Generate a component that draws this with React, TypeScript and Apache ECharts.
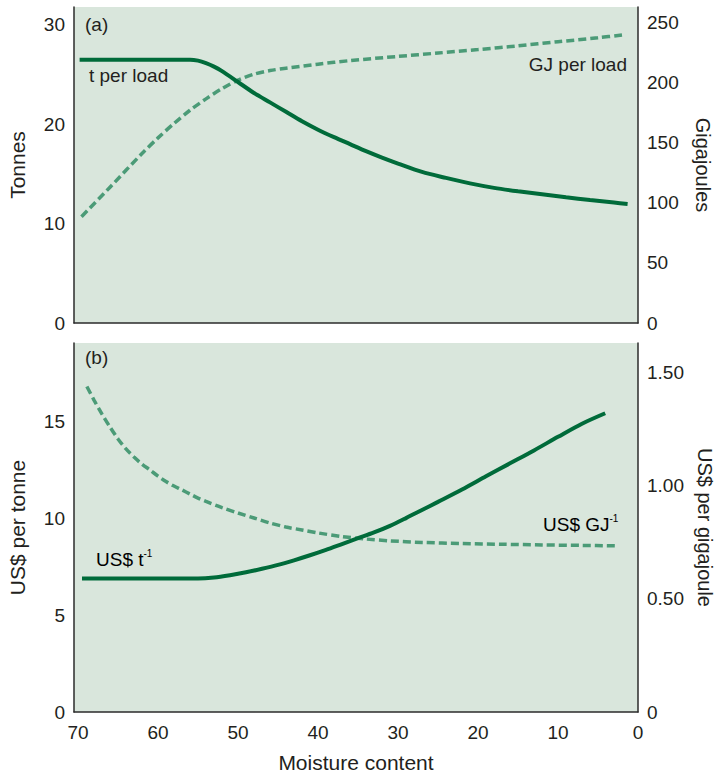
import React, { useEffect, useRef } from "react";
import * as echarts from "echarts";

// ---- data ----
const moistTonnes = [69.8, 56, 55, 54, 53, 52, 50, 48, 46, 44, 42, 40, 38, 36, 34, 32, 30, 27, 24, 21, 18, 15, 12, 9, 6, 3, 1.3];
const tonnesPerLoad = [26.5, 26.5, 26.4, 26.15, 25.8, 25.35, 24.25, 23.15, 22.2, 21.25, 20.3, 19.45, 18.7, 18.0, 17.3, 16.65, 16.05, 15.2, 14.6, 14.05, 13.6, 13.25, 12.95, 12.65, 12.37, 12.12, 11.98];

const moistGJ = [69.8, 66, 62, 60, 58, 56, 54, 52, 50, 48, 46, 44, 40, 36, 30, 25, 20, 15, 10, 5, 2];
const gjPerLoad = [86.8, 113, 141, 154, 166, 177, 186.5, 195, 202, 207, 210, 212, 215.3, 218.3, 221.8, 224.6, 227.5, 230.6, 234, 237.3, 239.6];

const moistUsdT = [69.5, 55, 53, 51, 49, 47, 45, 43, 41, 39, 37, 35, 33, 31, 29, 27, 25, 22, 19, 16, 13, 10, 7, 4.1];
const usdPerTonne = [6.9, 6.9, 6.95, 7.07, 7.22, 7.4, 7.6, 7.84, 8.1, 8.38, 8.68, 8.98, 9.28, 9.62, 10.02, 10.44, 10.86, 11.5, 12.18, 12.85, 13.52, 14.22, 14.9, 15.44];

const moistUsdGJ = [69.1, 68, 67, 66, 65, 64, 63, 62, 61, 60, 59, 58, 57, 56, 55, 54, 52, 50, 48, 46, 44, 42, 40, 37, 34, 31, 27, 22, 17, 12, 7, 2.9];
const usdPerGJ = [1.452, 1.378, 1.316, 1.259, 1.206, 1.162, 1.126, 1.095, 1.069, 1.042, 1.018, 0.998, 0.981, 0.963, 0.945, 0.93, 0.903, 0.879, 0.857, 0.835, 0.817, 0.804, 0.791, 0.775, 0.764, 0.756, 0.749, 0.744, 0.741, 0.738, 0.736, 0.734];

const xTicks = [0, 10, 20, 30, 40, 50, 60, 70];
const tonnesTicks = [0, 10, 20, 30];
const gjTicks = [0, 50, 100, 150, 200, 250];
const usdTTicks = [0, 5, 10, 15];
const usdGJTicks = [0, 0.5, 1.0, 1.5];

const FONT = "'Liberation Sans', Arial, Helvetica, sans-serif";
const TEXT = "#231f20";
const AXIS = "#2b2b2b";
const SOLID = "#006b3a";
const DASH = "#4b9b77";
const BG = "#d9e6dc";

const zip = (xs: number[], ys: number[]) =>
  xs.map((x, i) => [x, ys[i]]).sort((a, b) => a[0] - b[0]);

const tickFmt = (ticks: number[], fmt: (v: number) => string) => (v: number) =>
  ticks.some((t) => Math.abs(t - v) < 1e-9) ? fmt(v) : "";

export default function App() {
  const ref = useRef<HTMLDivElement>(null);
  useEffect(() => {
    if (!ref.current) return;
    document.body.style.overflow = "hidden";
    const chart = echarts.init(ref.current, undefined, { renderer: "svg", width: 715, height: 773 });
    const axisLine = { show: true, lineStyle: { color: AXIS, width: 1.5 } };
    const label = { color: TEXT, fontSize: 19, fontFamily: FONT, margin: 9 };
    const nameStyle = { color: TEXT, fontSize: 21, fontFamily: FONT };
    const rightNameStyle = { color: TEXT, fontSize: 20, fontFamily: FONT };
    const xCommon = {
      type: "value",
      min: 0,
      max: 70.5,
      inverse: true,
      interval: 10,
      axisLine: { ...axisLine, onZero: false },
      axisTick: { show: false },
      splitLine: { show: false },
    };
    const yCommon = {
      type: "value",
      min: 0,
      axisLine: { ...axisLine, onZero: false },
      axisTick: { show: false },
      splitLine: { show: false },
      nameLocation: "middle",
      nameTextStyle: nameStyle,
    };
    const supRich = {
      m: { fontSize: 19, fontFamily: FONT, color: TEXT, lineHeight: 22 },
      s: { fontSize: 10, fontFamily: FONT, color: TEXT, verticalAlign: "top", lineHeight: 22 },
    };
    const line = (xi: number, yi: number, data: number[][], dashed: boolean) => ({
      type: "line",
      xAxisIndex: xi,
      yAxisIndex: yi,
      data,
      symbol: "none",
      smooth: 0.3,
      lineStyle: dashed
        ? { color: DASH, width: 3.5, type: [8, 4] }
        : { color: SOLID, width: 4 },
      z: dashed ? 2 : 3,
    });
    const gridBase = {
      left: 74,
      right: 77,
      show: true,
      backgroundColor: BG,
      borderWidth: 0,
      containLabel: false,
      outerBoundsMode: "none",
    };
    chart.setOption({
      animation: false,
      grid: [
        { ...gridBase, top: 7, height: 316 },
        { ...gridBase, top: 343, height: 369 },
      ],
      xAxis: [
        { ...xCommon, gridIndex: 0, axisLabel: { show: false } },
        {
          ...xCommon,
          gridIndex: 1,
          axisLabel: { ...label, margin: 11, formatter: tickFmt(xTicks, (v) => String(v)) },
          name: "Moisture content",
          nameLocation: "middle",
          nameGap: 40,
          nameTextStyle: nameStyle,
        },
      ],
      yAxis: [
        {
          ...yCommon,
          gridIndex: 0,
          position: "left",
          max: 31.8,
          interval: 10,
          axisLabel: { ...label, formatter: tickFmt(tonnesTicks, (v) => String(v)) },
          name: "Tonnes",
          nameRotate: 90,
          nameGap: 46,
        },
        {
          ...yCommon,
          gridIndex: 0,
          position: "right",
          max: 262.9,
          interval: 50,
          axisLabel: { ...label, formatter: tickFmt(gjTicks, (v) => String(v)) },
          name: "Gigajoules",
          nameRotate: -90,
          nameGap: 55,
          nameTextStyle: rightNameStyle,
        },
        {
          ...yCommon,
          gridIndex: 1,
          position: "left",
          max: 19.07,
          interval: 5,
          axisLabel: { ...label, formatter: tickFmt(usdTTicks, (v) => String(v)) },
          name: "US$ per tonne",
          nameRotate: 90,
          nameGap: 46,
        },
        {
          ...yCommon,
          gridIndex: 1,
          position: "right",
          max: 1.63,
          interval: 0.5,
          axisLabel: { ...label, formatter: tickFmt(usdGJTicks, (v) => (v === 0 ? "0" : v.toFixed(2))) },
          name: "US$ per gigajoule",
          nameRotate: -90,
          nameGap: 55,
          nameTextStyle: rightNameStyle,
        },
      ],
      series: [
        line(0, 0, zip(moistTonnes, tonnesPerLoad), false),
        line(0, 1, zip(moistGJ, gjPerLoad), true),
        line(1, 2, zip(moistUsdT, usdPerTonne), false),
        line(1, 3, zip(moistUsdGJ, usdPerGJ), true),
      ],
      graphic: [
        { type: "text", left: 85, top: 15, style: { text: "(a)", font: `19px ${FONT}`, fill: TEXT } },
        { type: "text", left: 89, top: 66, style: { text: "t per load", font: `19px ${FONT}`, fill: TEXT } },
        { type: "text", right: 88, top: 55, style: { text: "GJ per load", font: `19px ${FONT}`, fill: TEXT } },
        { type: "text", left: 85, top: 348, style: { text: "(b)", font: `19px ${FONT}`, fill: TEXT } },
        { type: "text", left: 96, top: 548, style: { text: "{m|US$ t}{s|-1}", rich: supRich } },
        { type: "text", left: 543, top: 513, style: { text: "{m|US$ GJ}{s|-1}", rich: supRich } },
      ],
    });
    return () => chart.dispose();
  }, []);
  return (
    <div
      ref={ref}
      style={{ position: "fixed", left: 0, top: 0, width: 715, height: 773, background: "#ffffff" }}
    />
  );
}
